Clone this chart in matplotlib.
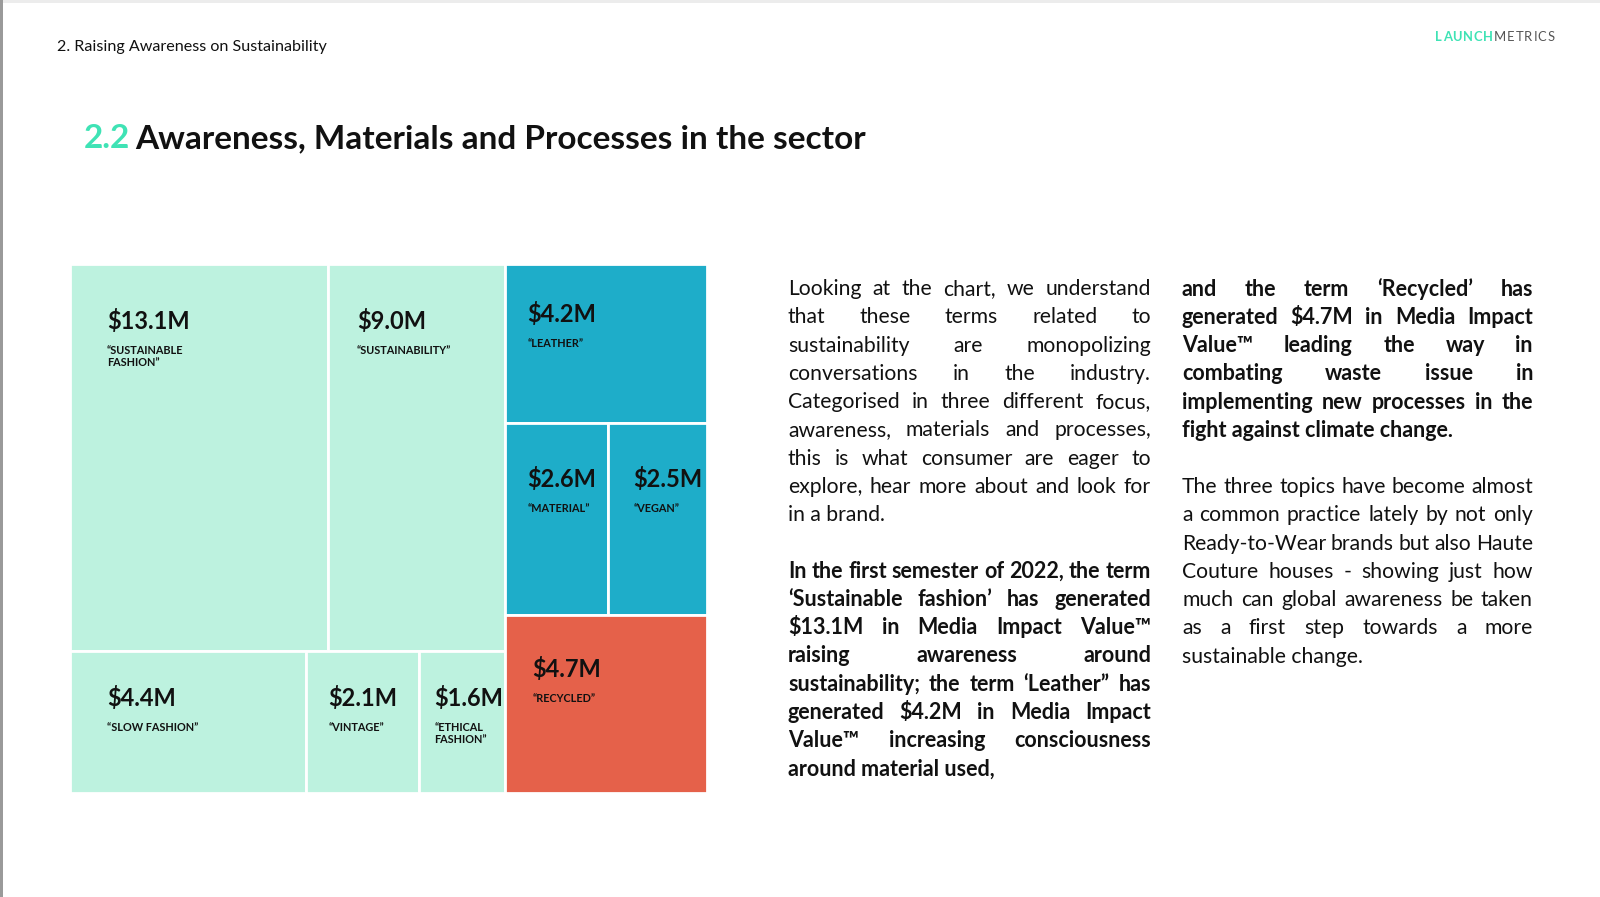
import matplotlib.pyplot as plt
from matplotlib.patches import Rectangle

plt.rcParams['font.family'] = ['Lato', 'DejaVu Sans']

# treemap data (Media Impact Value, $M)
terms = ["SUSTAINABLE\nFASHION", "SUSTAINABILITY", "SLOW FASHION", "VINTAGE",
         "ETHICAL\nFASHION", "LEATHER", "MATERIAL", "VEGAN", "RECYCLED"]
values = [13.1, 9.0, 4.4, 2.1, 1.6, 4.2, 2.6, 2.5, 4.7]
focus = ["awareness"] * 5 + ["materials"] * 3 + ["processes"]
# columns -> rows -> tiles (indices into the lists above)
groups = [[[0, 1], [2, 3, 4]], [[5], [6, 7], [8]]]

para1 = ["Looking at the chart, we understand",
         "that these terms related to",
         "sustainability are monopolizing",
         "conversations in the industry.",
         "Categorised in three different focus,",
         "awareness, materials and processes,",
         "this is what consumer are eager to",
         "explore, hear more about and look for",
         "in a brand."]
para2 = ["In the first semester of 2022, the term",
         "\u2018Sustainable fashion\u2019 has generated",
         "$13.1M in Media Impact Value\u2122",
         "raising awareness around",
         "sustainability; the term \u2018Leather\u201d has",
         "generated $4.2M in Media Impact",
         "Value\u2122 increasing consciousness",
         "around material used,"]
para3 = ["and the term \u2018Recycled\u2019 has",
         "generated $4.7M in Media Impact",
         "Value\u2122 leading the way in",
         "combating waste issue in",
         "implementing new processes in the",
         "fight against climate change."]
para4 = ["The three topics have become almost",
         "a common practice lately by not only",
         "Ready-to-Wear brands but also Haute",
         "Couture houses - showing just how",
         "much can global awareness be taken",
         "as a first step towards a more",
         "sustainable change."]

colors = {"awareness": "#BDF2DF", "materials": "#1EADC9", "processes": "#E5614A"}
# label offsets from tile top-left (px)
label_pad = [(37, 57), (29, 57), (37, 47), (22, 47), (15, 47),
             (22, 50), (22, 56), (25, 56), (27, 54)]

fig = plt.figure(figsize=(16, 8.97), dpi=100)
ax = fig.add_axes([0, 0, 1, 1])
ax.set_xlim(0, 1600)
ax.set_ylim(897, 0)
ax.axis('off')
renderer = fig.canvas.get_renderer()

# page frame
ax.add_patch(Rectangle((0, 0), 1600, 3, color='#ececec', lw=0))
ax.add_patch(Rectangle((0, 0), 2.5, 897, color='#9a9a9a', lw=0))

ax.text(57, 47, "2. Raising Awareness on Sustainability", fontsize=11.6,
        color='#111111', va='center')
t = ax.text(84, 139, "2.2", fontsize=24, fontweight='bold', color='#3FE3B5', va='center')
w = t.get_window_extent(renderer).width
ax.text(84 + w + 5, 139, "Awareness, Materials and Processes in the sector",
        fontsize=24, fontweight='bold', color='#111111', va='center')

# logo
lx = 1435
for word, col, fw in [("LAUNCH", '#3FE3B5', 'bold'), ("METRICS", '#555555', 'normal')]:
    for ch in word:
        t = ax.text(lx, 37, ch, fontsize=9.4, color=col, fontweight=fw, va='center')
        lx += t.get_window_extent(renderer).width + 0.9

# treemap
x0, x1, y0, y1 = 70, 707, 264, 793
total = sum(values)
cx = x0
for col in groups:
    col_sum = sum(values[i] for row in col for i in row)
    cw = (x1 - x0) * col_sum / total
    ry = y0
    for row in col:
        row_sum = sum(values[i] for i in row)
        rh = (y1 - y0) * row_sum / col_sum
        tx = cx
        for i in row:
            tw = cw * values[i] / row_sum
            ax.add_patch(Rectangle((tx, ry), tw, rh, facecolor=colors[focus[i]],
                                   edgecolor='white', lw=2))
            px, py = label_pad[i]
            ax.text(tx + px, ry + py, f"${values[i]:.1f}M", fontsize=17,
                    fontweight='bold', color='#111111', va='center')
            ax.text(tx + px, ry + py + 24, "\u201c" + terms[i] + "\u201d",
                    fontsize=7.8, fontweight='bold', color='#111111', va='top',
                    linespacing=1.15)
            tx += tw
        ry += rh
    cx += cw


def justified(lines, xa, xb, ya, dy, weight, size):
    for k, line in enumerate(lines):
        y = ya + k * dy
        words = line.split()
        if k == len(lines) - 1 or len(words) == 1:
            ax.text(xa, y, line, fontsize=size, fontweight=weight,
                    color='#111111', va='center')
            continue
        items = [ax.text(0, y, wd, fontsize=size, fontweight=weight,
                         color='#111111', va='center') for wd in words]
        widths = [it.get_window_extent(renderer).width for it in items]
        gap = (xb - xa - sum(widths)) / (len(words) - 1)
        xx = xa
        for it, wd in zip(items, widths):
            it.set_x(xx)
            xx += wd + gap


justified(para1, 788, 1151, 289, 28.3, 'normal', 15.2)
justified(para2, 788, 1151, 571, 28.3, 'bold', 15.5)
justified(para3, 1182, 1533, 289, 28.3, 'bold', 15.5)
justified(para4, 1182, 1533, 487, 28.3, 'normal', 15.2)

fig.savefig("out.png", dpi=100)
